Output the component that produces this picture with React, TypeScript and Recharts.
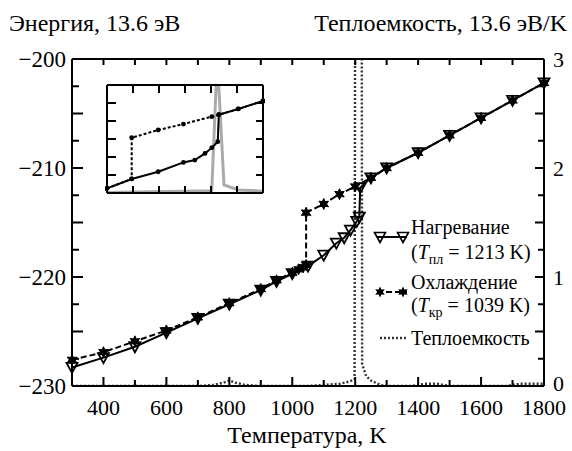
import React from 'react';
import { LineChart, Line, XAxis, YAxis, Legend } from 'recharts';

const FONT = "'Liberation Serif', Tinos, 'Noto Serif', FreeSerif, 'Nimbus Roman', 'DejaVu Serif', 'Times New Roman', Times, serif";

// Heating curve (temperature, K ; energy, 13.6 eV)
const heatT = [300, 400, 500, 600, 700, 800, 900, 950, 1000, 1050, 1100, 1140, 1165, 1185, 1205, 1213, 1216, 1250, 1300, 1400, 1500, 1600, 1700, 1800];
const heatE = [-228.3, -227.4, -226.4, -225.1, -223.8, -222.5, -221.2, -220.4, -219.7, -219.0, -218.0, -216.9, -216.4, -215.7, -214.9, -214.5, -211.8, -210.9, -210.0, -208.6, -207.0, -205.4, -203.8, -202.2];

// Cooling curve
const coolT = [300, 400, 500, 600, 700, 800, 900, 950, 1000, 1020, 1035, 1044, 1044, 1100, 1150, 1200, 1250, 1300, 1400, 1500, 1600, 1700, 1800];
const coolE = [-227.6, -226.9, -225.9, -224.9, -223.7, -222.4, -221.1, -220.3, -219.6, -219.3, -219.1, -218.9, -214.1, -213.3, -212.4, -211.7, -210.9, -210.0, -208.6, -207.0, -205.4, -203.8, -202.2];

// Heat capacity (13.6 eV/K)
const capT = [300, 700, 750, 780, 800, 820, 850, 900, 1050, 1100, 1150, 1180, 1198, 1202, 1219, 1222, 1235, 1250, 1265, 1280, 1300, 1380, 1420, 1460, 1500, 1680, 1720, 1760, 1800];
const capC = [0, 0, 0.01, 0.03, 0.05, 0.03, 0.01, 0, 0, 0.01, 0.02, 0.04, 0.06, 8, 8, 0.2, 0.09, 0.05, 0.03, 0.01, 0, 0, 0.02, 0.02, 0, 0, 0.02, 0.02, 0.02];

// Inset (arbitrary units 0..6)
const inHeatX = [0, 0.95, 1.97, 2.94, 3.38, 3.77, 4.03, 4.26, 4.3, 5.05, 6.0];
const inHeatY = [0.26, 0.78, 1.18, 1.7, 1.83, 2.2, 2.52, 2.85, 4.35, 4.67, 5.11];
const inCoolX = [0, 0.95, 0.95, 1.97, 2.94, 4.03, 4.3, 5.05, 6.0];
const inCoolY = [0.26, 0.78, 3.07, 3.5, 3.83, 4.24, 4.35, 4.67, 5.11];
const inCapX = [0, 2.9, 3.95, 4.03, 4.24, 4.5, 5.05, 6.0];
const inCapY = [0.03, 0.1, 0.13, 0.15, 7.5, 0.45, 0.17, 0.1];
const inTicks = [1, 2, 3, 4, 5];

// Ticks
const xTicks = [300, 400, 500, 600, 700, 800, 900, 1000, 1100, 1200, 1300, 1400, 1500, 1600, 1700, 1800];
const xLabels = [400, 600, 800, 1000, 1200, 1400, 1600, 1800];
const leftTicks = [-230, -227.5, -225, -222.5, -220, -217.5, -215, -212.5, -210, -207.5, -205, -202.5, -200];
const leftLabels = [-230, -220, -210, -200];
const rightTicks = [0, 0.25, 0.5, 0.75, 1, 1.25, 1.5, 1.75, 2, 2.25, 2.5, 2.75, 3];
const rightLabels = [0, 1, 2, 3];

const heatData = heatT.map((T, i) => ({ T, E: heatE[i] }));
const coolData = coolT.map((T, i) => ({ T, E: coolE[i] }));
const capData = capT.map((T, i) => ({ T, C: capC[i] }));
const inHeat = inHeatX.map((x, i) => ({ x, y: inHeatY[i] }));
const inCool = inCoolX.map((x, i) => ({ x, y: inCoolY[i] }));
const inCap = inCapX.map((x, i) => ({ x, y: inCapY[i] }));

const AX = { stroke: '#000', strokeWidth: 2 };
const TXT: React.CSSProperties = { fontFamily: FONT };

const BottomTick = (p: any) => {
  const v = p.payload.value;
  const major = v % 200 === 0;
  return (
    <g>
      <line x1={p.x} x2={p.x} y1={p.y} y2={p.y - (major ? 9 : 6)} stroke="#000" strokeWidth={2} />
      {xLabels.includes(v) && (
        <text x={p.x} y={p.y + 29} textAnchor="middle" style={TXT} fontSize={22} fill="#000">{v}</text>
      )}
    </g>
  );
};
const TopTick = (p: any) => (
  <line x1={p.x} x2={p.x} y1={p.y} y2={p.y + 6} stroke="#000" strokeWidth={2} />
);
const LeftTick = (p: any) => {
  const v = p.payload.value;
  const major = Math.abs(v % 5) < 1e-6;
  return (
    <g>
      <line x1={p.x} x2={p.x + (major ? 11 : 7)} y1={p.y} y2={p.y} stroke="#000" strokeWidth={2} />
      {leftLabels.includes(v) && (
        <text x={p.x - 6} y={p.y + 8} textAnchor="end" style={TXT} fontSize={23} fill="#000">{String(v).replace('-', '\u2212')}</text>
      )}
    </g>
  );
};
const RightTick = (p: any) => {
  const v = p.payload.value;
  const major = Math.abs(v % 0.5) < 1e-6;
  return (
    <g>
      <line x1={p.x} x2={p.x - (major ? 9 : 6)} y1={p.y} y2={p.y} stroke="#000" strokeWidth={2} />
      {rightLabels.includes(v) && (
        <text x={p.x + 9} y={p.y + (v === 0 ? 5 : 8)} textAnchor="start" style={TXT} fontSize={22} fill="#000">{v}</text>
      )}
    </g>
  );
};

const mkInTick = (dx: number, dy: number) => (p: any) => (
  <line x1={p.x} y1={p.y} x2={p.x + dx} y2={p.y + dy} stroke="#000" strokeWidth={2} />
);

const triPts = (cx: number, cy: number) => `${cx - 5.5},${cy - 4.5} ${cx + 5.5},${cy - 4.5} ${cx},${cy + 5.5}`;
const starPts = (cx: number, cy: number) => {
  const pts: string[] = [];
  for (let k = 0; k < 12; k++) {
    const r = k % 2 === 0 ? 5.5 : 2.8;
    const a = (Math.PI / 6) * k - Math.PI / 2;
    pts.push(`${(cx + r * Math.cos(a)).toFixed(2)},${(cy + r * Math.sin(a)).toFixed(2)}`);
  }
  return pts.join(' ');
};

const TriDot = (p: any) => (
  <polygon key={`t${p.index}`} points={triPts(p.cx, p.cy)} fill="none" stroke="#000" strokeWidth={1.8} />
);
const StarDot = (p: any) => (
  <polygon key={`s${p.index}`} points={starPts(p.cx, p.cy)} fill="#000" stroke="#000" strokeWidth={1} />
);
const SmallDot = (p: any) => (
  <circle key={`d${p.index}`} cx={p.cx} cy={p.cy} r={2.4} fill="#000" />
);

const renderLegend = () => (
  <svg width={200} height={150} style={{ overflow: 'visible', display: 'block' }}>
    <g style={TXT} fontSize={20} fill="#000">
      <line x1={7} x2={37} y1={25} y2={25} stroke="#000" strokeWidth={2} />
      <polygon points={triPts(10, 25)} fill="none" stroke="#000" strokeWidth={1.6} />
      <polygon points={triPts(33, 25)} fill="none" stroke="#000" strokeWidth={1.6} />
      <text x={41} y={22} style={TXT}>Нагревание</text>
      <text x={41} y={47} style={TXT}>
        <tspan>(</tspan>
        <tspan fontStyle="italic">T</tspan>
        <tspan fontSize={14} dy={5}>пл</tspan>
        <tspan dy={-5}> = 1213 K)</tspan>
      </text>
      <line x1={7} x2={37} y1={80} y2={80} stroke="#000" strokeWidth={2} strokeDasharray="6 3" />
      <polygon points={starPts(10, 80)} fill="#000" />
      <polygon points={starPts(33, 80)} fill="#000" />
      <text x={41} y={77} style={TXT}>Охлаждение</text>
      <text x={41} y={100} style={TXT}>
        <tspan>(</tspan>
        <tspan fontStyle="italic">T</tspan>
        <tspan fontSize={14} dy={5}>кр</tspan>
        <tspan dy={-5}> = 1039 K)</tspan>
      </text>
      <line x1={10} x2={37} y1={126} y2={126} stroke="#333" strokeWidth={2.4} strokeDasharray="2 2" />
      <text x={41} y={133} style={TXT}>Теплоемкость</text>
    </g>
  </svg>
);

export default function App() {
  return (
    <div style={{ position: 'absolute', left: 0, top: 0, width: 572, height: 451, background: '#fff', fontFamily: FONT }}>
      <LineChart width={572} height={451} margin={{ top: 58, right: 0, bottom: 0, left: 0 }}>
        <XAxis
          xAxisId="b"
          type="number"
          dataKey="T"
          domain={[300, 1800]}
          ticks={xTicks}
          interval={0}
          height={65}
          tickSize={0}
          tickMargin={0}
          tickLine={false}
          axisLine={AX}
          tick={BottomTick}
          label={{
            content: () => (
              <text x={307} y={443} textAnchor="middle" style={TXT} fontSize={24} fill="#000">Температура, K</text>
            ),
          }}
        />
        <XAxis
          xAxisId="t"
          orientation="top"
          type="number"
          dataKey="T"
          domain={[300, 1800]}
          ticks={xTicks}
          interval={0}
          height={1}
          tickSize={0}
          tickMargin={0}
          tickLine={false}
          axisLine={AX}
          tick={TopTick}
        />
        <YAxis
          yAxisId="l"
          type="number"
          domain={[-230, -200]}
          ticks={leftTicks}
          interval={0}
          width={72}
          tickSize={0}
          tickMargin={0}
          tickLine={false}
          axisLine={AX}
          tick={LeftTick}
          label={{
            content: () => (
              <text x={9} y={31} textAnchor="start" style={TXT} fontSize={24} fill="#000">Энергия, 13.6 эВ</text>
            ),
          }}
        />
        <YAxis
          yAxisId="r"
          orientation="right"
          type="number"
          domain={[0, 3]}
          allowDataOverflow
          ticks={rightTicks}
          interval={0}
          width={28}
          tickSize={0}
          tickMargin={0}
          tickLine={false}
          axisLine={AX}
          tick={RightTick}
          label={{
            content: () => (
              <text x={567} y={31} textAnchor="end" style={TXT} fontSize={24} fill="#000">Теплоемкость, 13.6 эВ/K</text>
            ),
          }}
        />
        <Line
          name="Теплоемкость"
          data={capData}
          dataKey="C"
          xAxisId="t"
          yAxisId="r"
          type="linear"
          stroke="#333"
          strokeWidth={2.4}
          strokeDasharray="2 2"
          dot={false}
          isAnimationActive={false}
        />
        <Line
          name="Охлаждение"
          data={coolData}
          dataKey="E"
          xAxisId="b"
          yAxisId="l"
          type="linear"
          stroke="#000"
          strokeWidth={2}
          strokeDasharray="6 3"
          dot={StarDot}
          isAnimationActive={false}
        />
        <Line
          name="Нагревание"
          data={heatData}
          dataKey="E"
          xAxisId="b"
          yAxisId="l"
          type="linear"
          stroke="#000"
          strokeWidth={2}
          dot={TriDot}
          isAnimationActive={false}
        />
        <Legend
          layout="vertical"
          align="center"
          verticalAlign="middle"
          content={renderLegend}
          wrapperStyle={{ left: 370, top: 212, width: 200, height: 150 }}
        />
      </LineChart>

      <div style={{ position: 'absolute', left: 105, top: 83, width: 160, height: 112 }}>
        <LineChart width={160} height={112} margin={{ top: 1, right: 1, bottom: 1, left: 1 }}>
          <XAxis xAxisId="ib" type="number" dataKey="x" domain={[0, 6]} ticks={inTicks} interval={0} height={1}
            tickSize={0} tickMargin={0} tickLine={false} axisLine={AX} tick={mkInTick(0, -7)} />
          <XAxis xAxisId="it" orientation="top" type="number" dataKey="x" domain={[0, 6]} ticks={inTicks} interval={0} height={1}
            tickSize={0} tickMargin={0} tickLine={false} axisLine={AX} tick={mkInTick(0, 8)} />
          <YAxis yAxisId="il" type="number" domain={[0, 6]} ticks={inTicks} interval={0} width={1}
            tickSize={0} tickMargin={0} tickLine={false} axisLine={AX} tick={mkInTick(9, 0)} />
          <YAxis yAxisId="ir" orientation="right" type="number" domain={[0, 6]} allowDataOverflow ticks={inTicks} interval={0} width={1}
            tickSize={0} tickMargin={0} tickLine={false} axisLine={AX} tick={mkInTick(-7, 0)} />
          <Line data={inCap} dataKey="y" xAxisId="it" yAxisId="ir" type="linear" stroke="#aaa" strokeWidth={3}
            dot={false} isAnimationActive={false} />
          <Line data={inCool} dataKey="y" xAxisId="ib" yAxisId="il" type="linear" stroke="#000" strokeWidth={2}
            strokeDasharray="3 2" dot={SmallDot} isAnimationActive={false} />
          <Line data={inHeat} dataKey="y" xAxisId="ib" yAxisId="il" type="linear" stroke="#000" strokeWidth={2}
            dot={SmallDot} isAnimationActive={false} />
        </LineChart>
      </div>
    </div>
  );
}
